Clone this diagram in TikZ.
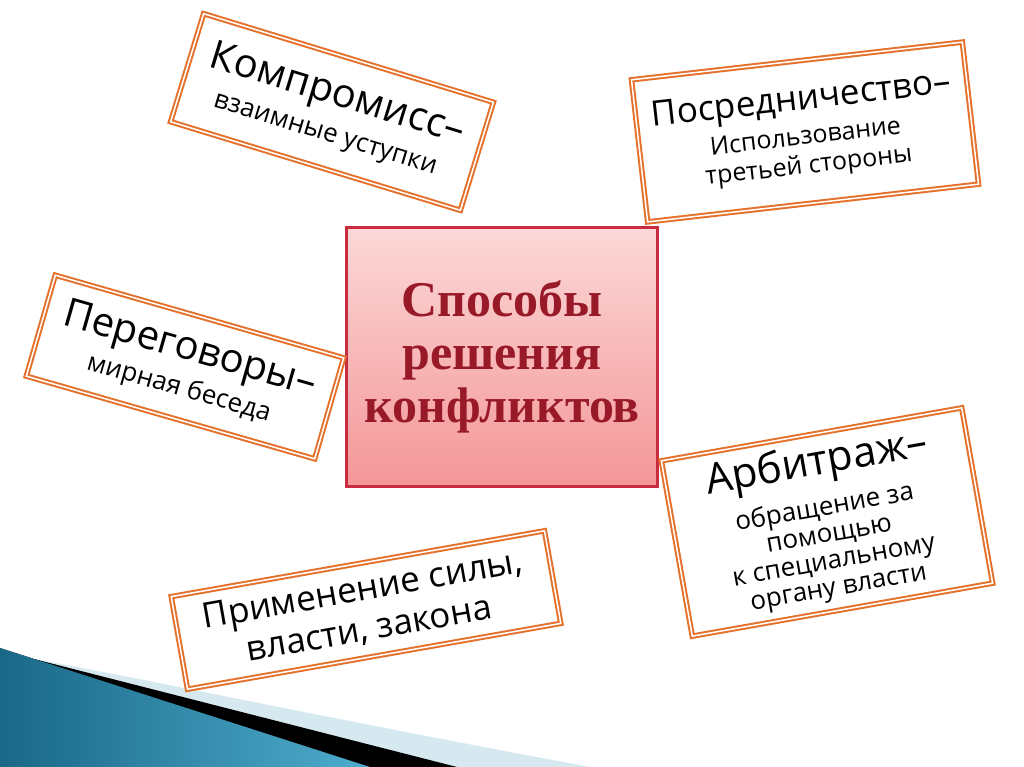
\documentclass[tikz,border=0pt]{standalone}
\usepackage{fontspec}
\setmainfont{Open Sans}
\newfontfamily\titlefont{Liberation Serif}
\definecolor{cardorange}{RGB}{228,114,44}
\definecolor{frameRed}{RGB}{200,44,62}
\definecolor{titleRed}{RGB}{152,26,40}
\definecolor{pinkTop}{RGB}{252,216,216}
\definecolor{pinkBot}{RGB}{244,150,152}
\definecolor{tealDark}{RGB}{26,104,136}
\definecolor{tealLight}{RGB}{78,172,204}
\definecolor{bandLight}{RGB}{214,232,240}

\begin{document}
\begin{tikzpicture}[x=1pt,y=-1pt,
card/.style={%
draw=cardorange,
line width=2pt,
double=white,
double distance=1.5pt,
fill=white,
align=center,
inner sep=3pt,
font=\fontsize{26}{29}\selectfont,
},
mainbox/.style={%
draw=frameRed,
line width=3pt,
top color=pinkTop,
bottom color=pinkBot,
align=center,
text=titleRed,
font=\titlefont\bfseries\fontsize{50}{53}\selectfont,
},
]
\useasboundingbox(0,0)rectangle(1024,767);
%% Swoosh
\fill[bandLight](40,660)..controls(150,680)and(300,713)..(590,767)--(0,767)--cycle;
\fill[black](34,659)--(457,767)--(0,767)--cycle;
\fill[left color=tealDark,right color=tealLight](0,648)--(370,767)--(0,767)--cycle;
%% Centre
\node[mainbox,minimum width=311pt,minimum height=259pt]at(502,357)(sposoby){Способы\\решения\\конфликтов};
%% Cards
\node[card,rotate=-17,minimum width=303pt,minimum height=113pt]at(332,112)(kompromiss){{\fontsize{40}{40}\selectfont Компромисс–}\\[8pt]взаимные уступки};
\node[card,rotate=6.5,minimum width=333pt,minimum height=143pt,font=\fontsize{25}{29}\selectfont]at(805,132)(posrednik){{\fontsize{35}{35}\selectfont Посредничество–}\\[6pt]Использование\\третьей стороны};
\node[card,rotate=-16,minimum width=300pt,minimum height=105pt]at(185,367)(peregovory){{\fontsize{40}{40}\selectfont Переговоры–}\\[6pt]мирная беседа};
\node[card,rotate=10,minimum width=305pt,minimum height=178pt,font=\fontsize{26}{27}\selectfont]at(827,522)(arbitrazh){{\fontsize{42}{42}\selectfont Арбитраж–}\\[10pt]обращение за\\помощью\\к специальному\\органу власти};
\node[card,rotate=10,minimum width=379pt,minimum height=94pt,font=\fontsize{35}{40}\selectfont]at(366,610)(sila){Применение силы,\\власти, закона};
\end{tikzpicture}
\end{document}
